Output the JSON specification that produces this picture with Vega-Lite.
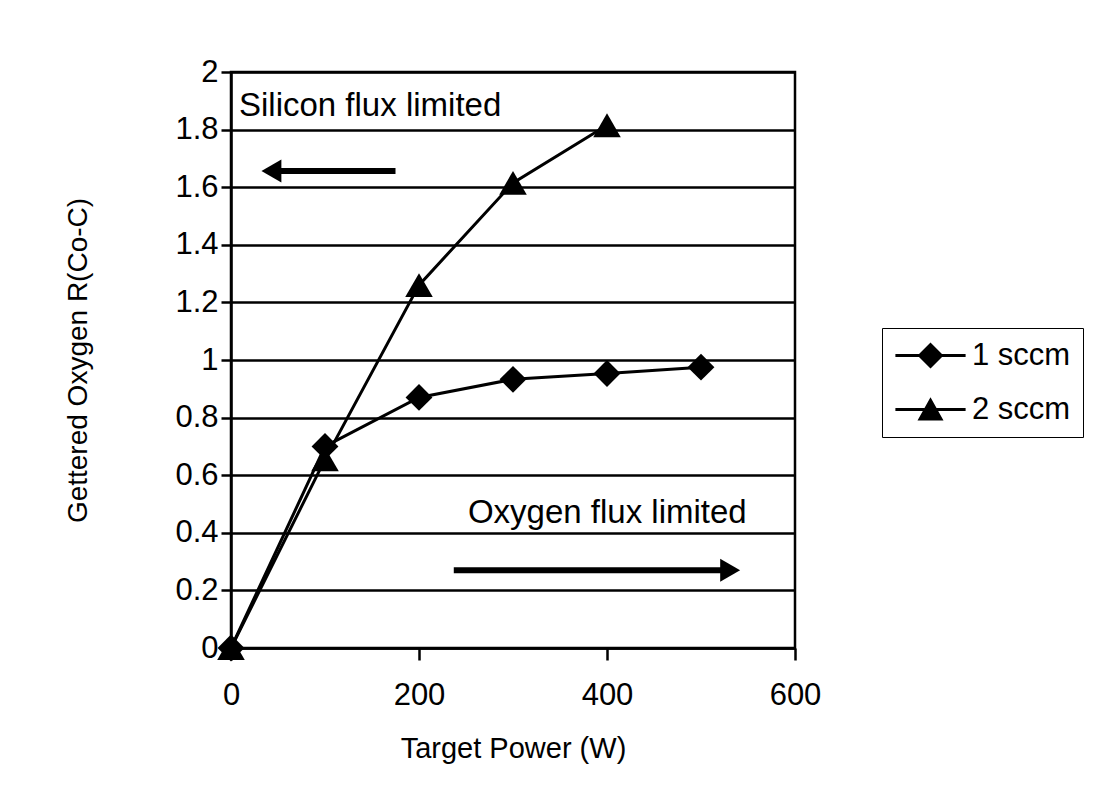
{
  "$schema": "https://vega.github.io/schema/vega-lite/v6.json",
  "width": 564,
  "height": 576,
  "autosize": {"type": "none"},
  "padding": {"left": 231, "top": 72, "right": 301, "bottom": 155},
  "background": "white",
  "config": {
    "font": "Liberation Sans",
    "view": {"stroke": "black", "strokeWidth": 2.5},
    "axis": {
      "domainColor": "black", "domainWidth": 2.5,
      "tickColor": "black", "tickWidth": 2.5,
      "labelColor": "black", "titleColor": "black",
      "labelFont": "Liberation Sans", "titleFont": "Liberation Sans",
      "titleFontWeight": "normal"
    }
  },
  "datasets": {
    "series": [
      {"series": "1 sccm", "power": 0, "value": 0},
      {"series": "1 sccm", "power": 100, "value": 0.70},
      {"series": "1 sccm", "power": 200, "value": 0.87},
      {"series": "1 sccm", "power": 300, "value": 0.933},
      {"series": "1 sccm", "power": 400, "value": 0.953},
      {"series": "1 sccm", "power": 500, "value": 0.975},
      {"series": "2 sccm", "power": 0, "value": 0},
      {"series": "2 sccm", "power": 100, "value": 0.655},
      {"series": "2 sccm", "power": 200, "value": 1.26},
      {"series": "2 sccm", "power": 300, "value": 1.615},
      {"series": "2 sccm", "power": 400, "value": 1.815}
    ],
    "notes": [
      {"label": "Silicon flux limited", "power": 8.5, "value": 1.846},
      {"label": "Oxygen flux limited", "power": 252, "value": 0.435}
    ],
    "arrows": [
      {"dir": "left", "start": 175, "end": 43, "value": 1.656},
      {"dir": "right", "start": 237, "end": 531, "value": 0.27}
    ]
  },
  "layer": [
    {
      "data": {"name": "series"},
      "mark": {"type": "line", "color": "black", "strokeWidth": 3},
      "encoding": {
        "x": {
          "field": "power", "type": "quantitative",
          "scale": {"domain": [0, 600], "nice": false, "zero": false},
          "axis": {
            "values": [0, 200, 400, 600], "format": "d", "grid": false,
            "title": "Target Power (W)", "tickSize": 12,
            "labelFontSize": 31, "labelPadding": 20, "labelFlush": false,
            "titleFontSize": 29, "titlePadding": 24
          }
        },
        "y": {
          "field": "value", "type": "quantitative",
          "scale": {"domain": [0, 2], "nice": false},
          "axis": {
            "values": [0, 0.2, 0.4, 0.6, 0.8, 1, 1.2, 1.4, 1.6, 1.8, 2],
            "format": ".1~f", "grid": true, "gridColor": "black",
            "gridWidth": 2.5, "gridOpacity": 1, "tickSize": 10,
            "labelFontSize": 31, "labelPadding": 3, "labelFlush": false,
            "title": "Gettered Oxygen R(Co-C)", "titleFontSize": 28,
            "titlePadding": 82
          }
        },
        "detail": {"field": "series", "type": "nominal"}
      }
    },
    {
      "data": {"name": "series"},
      "transform": [{"filter": "datum.series === '1 sccm'"}],
      "mark": {"type": "point", "shape": "diamond", "filled": true, "color": "black", "opacity": 1, "size": 720},
      "encoding": {
        "x": {"field": "power", "type": "quantitative"},
        "y": {"field": "value", "type": "quantitative"}
      }
    },
    {
      "data": {"name": "series"},
      "transform": [{"filter": "datum.series === '2 sccm'"}],
      "mark": {"type": "point", "shape": "triangle-up", "filled": true, "color": "black", "opacity": 1, "size": 760},
      "encoding": {
        "x": {"field": "power", "type": "quantitative"},
        "y": {"field": "value", "type": "quantitative"}
      }
    },
    {
      "data": {"name": "series"},
      "mark": {"type": "point", "filled": true, "color": "black", "opacity": 0, "size": 676},
      "encoding": {
        "x": {"field": "power", "type": "quantitative"},
        "y": {"field": "value", "type": "quantitative"},
        "shape": {
          "field": "series", "type": "nominal",
          "scale": {
            "domain": ["1 sccm", "2 sccm"],
            "range": [
              "M-2.7,-0.12L2.7,-0.12L2.7,0.12L-2.7,0.12Z M0,-1L1,0L0,1L-1,0Z",
              "M-2.7,-0.12L2.7,-0.12L2.7,0.12L-2.7,0.12Z M0,-0.95L1,0.85L-1,0.85Z"
            ]
          },
          "legend": {
            "title": null, "orient": "none", "legendX": 651, "legendY": 256,
            "symbolSize": 676, "symbolOpacity": 1, "symbolFillColor": "black",
            "symbolOffset": 21, "labelOffset": 26,
            "labelFontSize": 31, "labelFont": "Liberation Sans", "labelColor": "black",
            "rowPadding": 21, "padding": 12,
            "strokeColor": "black", "fillColor": "white"
          }
        }
      }
    },
    {
      "data": {"name": "notes"},
      "mark": {"type": "text", "align": "left", "baseline": "alphabetic", "fontSize": 33, "font": "Liberation Sans", "color": "black"},
      "encoding": {
        "x": {"field": "power", "type": "quantitative"},
        "y": {"field": "value", "type": "quantitative"},
        "text": {"field": "label", "type": "nominal"}
      }
    },
    {
      "data": {"name": "arrows"},
      "mark": {"type": "rule", "color": "black", "strokeWidth": 6},
      "encoding": {
        "x": {"field": "start", "type": "quantitative"},
        "x2": {"field": "end"},
        "y": {"field": "value", "type": "quantitative"}
      }
    },
    {
      "data": {"name": "arrows"},
      "transform": [{"filter": "datum.dir === 'left'"}],
      "mark": {"type": "point", "shape": "triangle-left", "filled": true, "color": "black", "opacity": 1, "size": 530},
      "encoding": {
        "x": {"field": "end", "type": "quantitative"},
        "y": {"field": "value", "type": "quantitative"}
      }
    },
    {
      "data": {"name": "arrows"},
      "transform": [{"filter": "datum.dir === 'right'"}],
      "mark": {"type": "point", "shape": "triangle-right", "filled": true, "color": "black", "opacity": 1, "size": 530},
      "encoding": {
        "x": {"field": "end", "type": "quantitative"},
        "y": {"field": "value", "type": "quantitative"}
      }
    }
  ]
}
